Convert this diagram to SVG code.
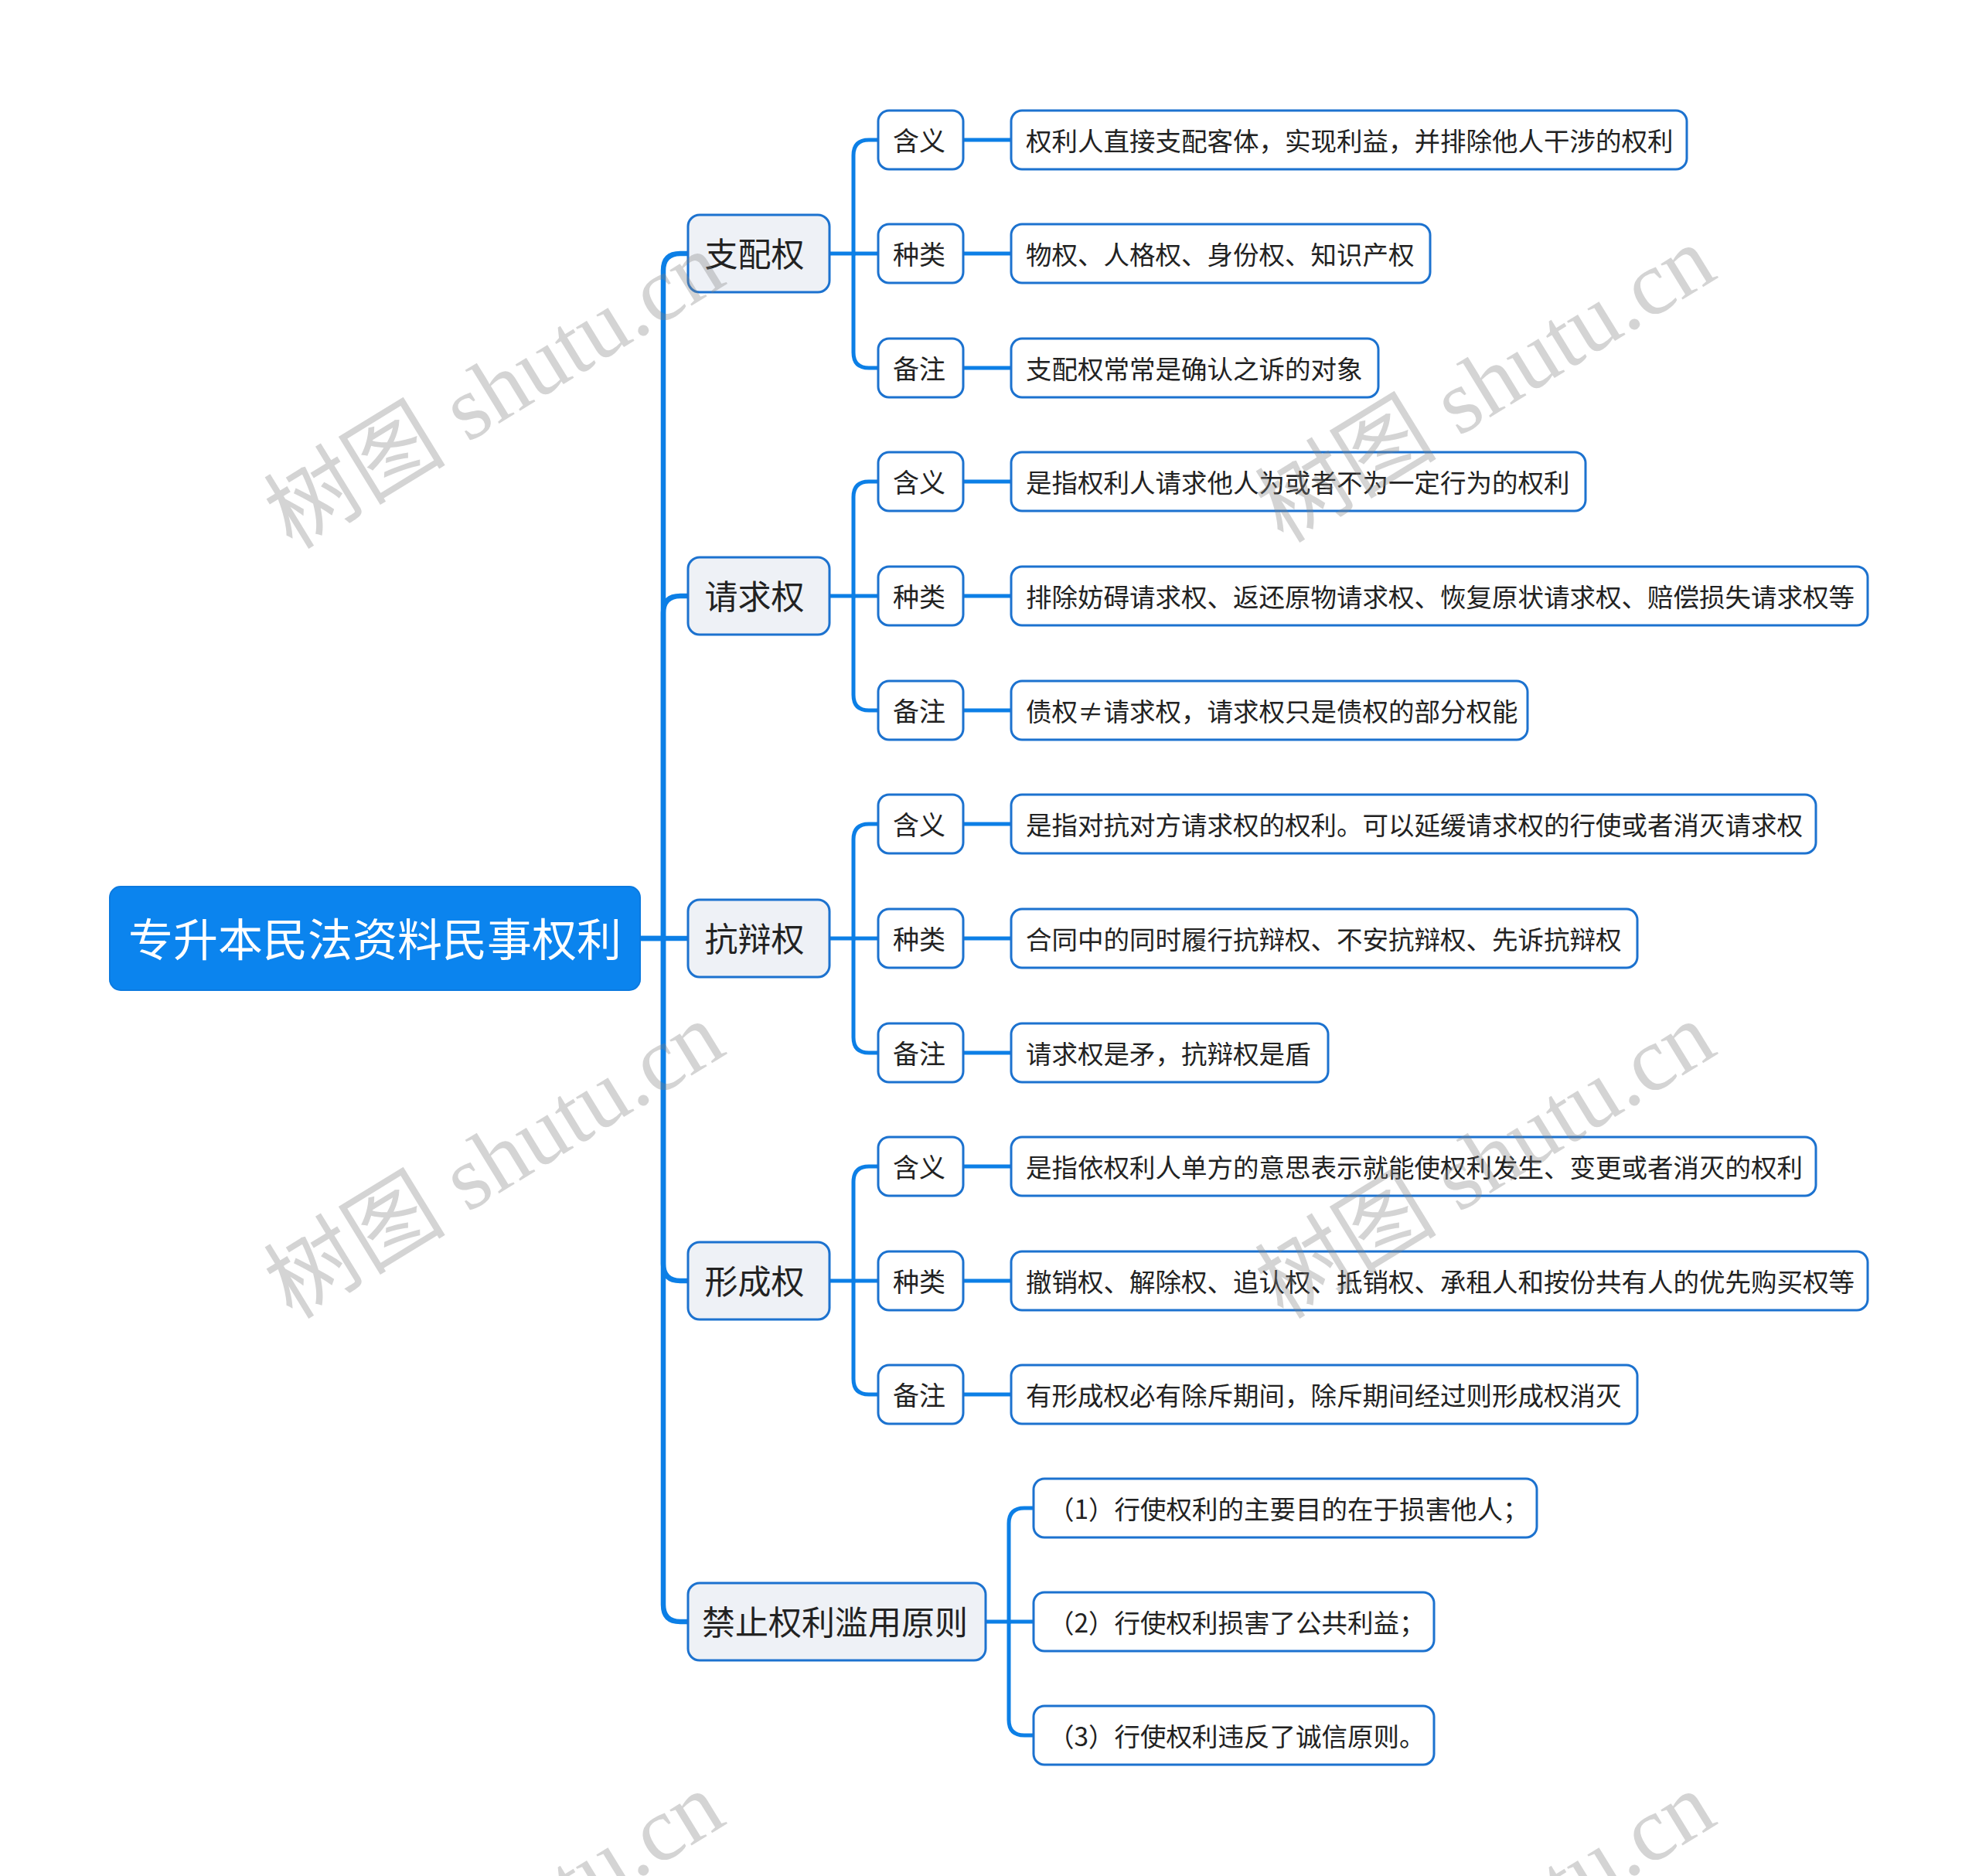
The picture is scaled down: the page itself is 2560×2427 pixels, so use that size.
<svg xmlns="http://www.w3.org/2000/svg" width="2560" height="2427" viewBox="0 0 2560 2427">
<style>
text{font-family:"Noto Sans CJK SC","Noto Sans",sans-serif;fill:#222}
.root rect{fill:#0b84ee;stroke:#0b7ae0;stroke-width:2}
.root text{fill:#fff;font-size:58px}
.main rect{fill:#eef1f6;stroke:#1c72cf;stroke-width:3}
.main text{font-size:43px}
.cat rect{fill:#fff;stroke:#1c72cf;stroke-width:3}
.cat text{font-size:34px}
.leaf rect{fill:#fff;stroke:#1c72cf;stroke-width:3}
.leaf text{font-size:33.5px}
.conn path{fill:none;stroke:#0c7fe6;stroke-width:6.5;stroke-linecap:round}
.conn .thin{stroke-width:5}
.wm{font-family:"Liberation Serif","Noto Sans CJK SC",serif;font-size:118px;fill:#808080;fill-opacity:0.34}
</style>
<rect width="2560" height="2427" fill="#fff"/>
<g class="conn">
<path d="M828 1214 H858 V350 Q858 328 880 328 H890"/>
<path d="M858 1214 V793 Q858 771 880 771 H890"/>
<path d="M828 1214 H890"/>
<path d="M858 1214 V1635 Q858 1657 880 1657 H890"/>
<path d="M858 1214 V2076 Q858 2098 880 2098 H890"/>
<path class="thin" d="M1073 328 H1104 V201 Q1104 181 1124 181 H1136"/>
<path class="thin" d="M1104 328 H1136"/>
<path class="thin" d="M1104 328 V456 Q1104 476 1124 476 H1136"/>
<path class="thin" d="M1073 771 H1104 V643 Q1104 623 1124 623 H1136"/>
<path class="thin" d="M1104 771 H1136"/>
<path class="thin" d="M1104 771 V899 Q1104 919 1124 919 H1136"/>
<path class="thin" d="M1073 1214 H1104 V1086 Q1104 1066 1124 1066 H1136"/>
<path class="thin" d="M1104 1214 H1136"/>
<path class="thin" d="M1104 1214 V1342 Q1104 1362 1124 1362 H1136"/>
<path class="thin" d="M1073 1657 H1104 V1529 Q1104 1509 1124 1509 H1136"/>
<path class="thin" d="M1104 1657 H1136"/>
<path class="thin" d="M1104 1657 V1784 Q1104 1804 1124 1804 H1136"/>
<path class="thin" d="M1275 2098 H1305 V1971 Q1305 1951 1325 1951 H1337"/>
<path class="thin" d="M1305 2098 H1337"/>
<path class="thin" d="M1305 2098 V2225 Q1305 2245 1325 2245 H1337"/>
<path class="thin" d="M1246 181 H1308 M1246 328 H1308 M1246 476 H1308 M1246 623 H1308 M1246 771 H1308 M1246 919 H1308 M1246 1066 H1308 M1246 1214 H1308 M1246 1362 H1308 M1246 1509 H1308 M1246 1657 H1308 M1246 1804 H1308"/>
</g>
<g id="root" class="root"><rect x="142" y="1147" width="686" height="134" rx="14"/><text x="485" y="1212" text-anchor="middle" dominant-baseline="central">专升本民法资料民事权利</text></g>
<g id="b1" class="main"><rect x="890" y="278" width="183" height="100" rx="15"/><text x="976" y="326" text-anchor="middle" dominant-baseline="central">支配权</text></g>
<g id="b2" class="main"><rect x="890" y="721" width="183" height="100" rx="15"/><text x="976" y="769" text-anchor="middle" dominant-baseline="central">请求权</text></g>
<g id="b3" class="main"><rect x="890" y="1164" width="183" height="100" rx="15"/><text x="976" y="1212" text-anchor="middle" dominant-baseline="central">抗辩权</text></g>
<g id="b4" class="main"><rect x="890" y="1607" width="183" height="100" rx="15"/><text x="976" y="1655" text-anchor="middle" dominant-baseline="central">形成权</text></g>
<g id="b5" class="main"><rect x="890" y="2048" width="385" height="100" rx="15"/><text x="1080" y="2096" text-anchor="middle" dominant-baseline="central">禁止权利滥用原则</text></g>
<g id="c1" class="cat"><rect x="1136" y="143" width="110" height="76" rx="14"/><text x="1189" y="180" text-anchor="middle" dominant-baseline="central">含义</text></g>
<g id="c2" class="cat"><rect x="1136" y="290" width="110" height="76" rx="14"/><text x="1189" y="327" text-anchor="middle" dominant-baseline="central">种类</text></g>
<g id="c3" class="cat"><rect x="1136" y="438" width="110" height="76" rx="14"/><text x="1189" y="475" text-anchor="middle" dominant-baseline="central">备注</text></g>
<g id="c4" class="cat"><rect x="1136" y="585" width="110" height="76" rx="14"/><text x="1189" y="622" text-anchor="middle" dominant-baseline="central">含义</text></g>
<g id="c5" class="cat"><rect x="1136" y="733" width="110" height="76" rx="14"/><text x="1189" y="770" text-anchor="middle" dominant-baseline="central">种类</text></g>
<g id="c6" class="cat"><rect x="1136" y="881" width="110" height="76" rx="14"/><text x="1189" y="918" text-anchor="middle" dominant-baseline="central">备注</text></g>
<g id="c7" class="cat"><rect x="1136" y="1028" width="110" height="76" rx="14"/><text x="1189" y="1065" text-anchor="middle" dominant-baseline="central">含义</text></g>
<g id="c8" class="cat"><rect x="1136" y="1176" width="110" height="76" rx="14"/><text x="1189" y="1213" text-anchor="middle" dominant-baseline="central">种类</text></g>
<g id="c9" class="cat"><rect x="1136" y="1324" width="110" height="76" rx="14"/><text x="1189" y="1361" text-anchor="middle" dominant-baseline="central">备注</text></g>
<g id="c10" class="cat"><rect x="1136" y="1471" width="110" height="76" rx="14"/><text x="1189" y="1508" text-anchor="middle" dominant-baseline="central">含义</text></g>
<g id="c11" class="cat"><rect x="1136" y="1619" width="110" height="76" rx="14"/><text x="1189" y="1656" text-anchor="middle" dominant-baseline="central">种类</text></g>
<g id="c12" class="cat"><rect x="1136" y="1766" width="110" height="76" rx="14"/><text x="1189" y="1803" text-anchor="middle" dominant-baseline="central">备注</text></g>
<g id="l1" class="leaf"><rect x="1308" y="143" width="874" height="76" rx="14"/><text x="1327" y="180" dominant-baseline="central">权利人直接支配客体，实现利益，并排除他人干涉的权利</text></g>
<g id="l2" class="leaf"><rect x="1308" y="290" width="542" height="76" rx="14"/><text x="1327" y="327" dominant-baseline="central">物权、人格权、身份权、知识产权</text></g>
<g id="l3" class="leaf"><rect x="1308" y="438" width="475" height="76" rx="14"/><text x="1327" y="475" dominant-baseline="central">支配权常常是确认之诉的对象</text></g>
<g id="l4" class="leaf"><rect x="1308" y="585" width="743" height="76" rx="14"/><text x="1327" y="622" dominant-baseline="central">是指权利人请求他人为或者不为一定行为的权利</text></g>
<g id="l5" class="leaf"><rect x="1308" y="733" width="1108" height="76" rx="14"/><text x="1327" y="770" dominant-baseline="central">排除妨碍请求权、返还原物请求权、恢复原状请求权、赔偿损失请求权等</text></g>
<g id="l6" class="leaf"><rect x="1308" y="881" width="668" height="76" rx="14"/><text x="1327" y="918" dominant-baseline="central">债权≠请求权，请求权只是债权的部分权能</text></g>
<g id="l7" class="leaf"><rect x="1308" y="1028" width="1041" height="76" rx="14"/><text x="1327" y="1065" dominant-baseline="central">是指对抗对方请求权的权利。可以延缓请求权的行使或者消灭请求权</text></g>
<g id="l8" class="leaf"><rect x="1308" y="1176" width="810" height="76" rx="14"/><text x="1327" y="1213" dominant-baseline="central">合同中的同时履行抗辩权、不安抗辩权、先诉抗辩权</text></g>
<g id="l9" class="leaf"><rect x="1308" y="1324" width="410" height="76" rx="14"/><text x="1327" y="1361" dominant-baseline="central">请求权是矛，抗辩权是盾</text></g>
<g id="l10" class="leaf"><rect x="1308" y="1471" width="1041" height="76" rx="14"/><text x="1327" y="1508" dominant-baseline="central">是指依权利人单方的意思表示就能使权利发生、变更或者消灭的权利</text></g>
<g id="l11" class="leaf"><rect x="1308" y="1619" width="1108" height="76" rx="14"/><text x="1327" y="1656" dominant-baseline="central">撤销权、解除权、追认权、抵销权、承租人和按份共有人的优先购买权等</text></g>
<g id="l12" class="leaf"><rect x="1308" y="1766" width="810" height="76" rx="14"/><text x="1327" y="1803" dominant-baseline="central">有形成权必有除斥期间，除斥期间经过则形成权消灭</text></g>
<g id="l13" class="leaf"><rect x="1337" y="1913" width="651" height="76" rx="14"/><text x="1356" y="1950" dominant-baseline="central">（1）行使权利的主要目的在于损害他人；</text></g>
<g id="l14" class="leaf"><rect x="1337" y="2060" width="518" height="76" rx="14"/><text x="1356" y="2097" dominant-baseline="central">（2）行使权利损害了公共利益；</text></g>
<g id="l15" class="leaf"><rect x="1337" y="2207" width="518" height="76" rx="14"/><text x="1356" y="2244" dominant-baseline="central">（3）行使权利违反了诚信原则。</text></g>
<g id="watermarks">
<text class="wm" transform="translate(378 712) rotate(-31.5)">树图 shutu.cn</text>
<text class="wm" transform="translate(1660 704) rotate(-31.5)">树图 shutu.cn</text>
<text class="wm" transform="translate(378 1708) rotate(-31.5)">树图 shutu.cn</text>
<text class="wm" transform="translate(1660 1708) rotate(-31.5)">树图 shutu.cn</text>
<text class="wm" transform="translate(378 2704) rotate(-31.5)">树图 shutu.cn</text>
<text class="wm" transform="translate(1660 2704) rotate(-31.5)">树图 shutu.cn</text>
</g>
</svg>
